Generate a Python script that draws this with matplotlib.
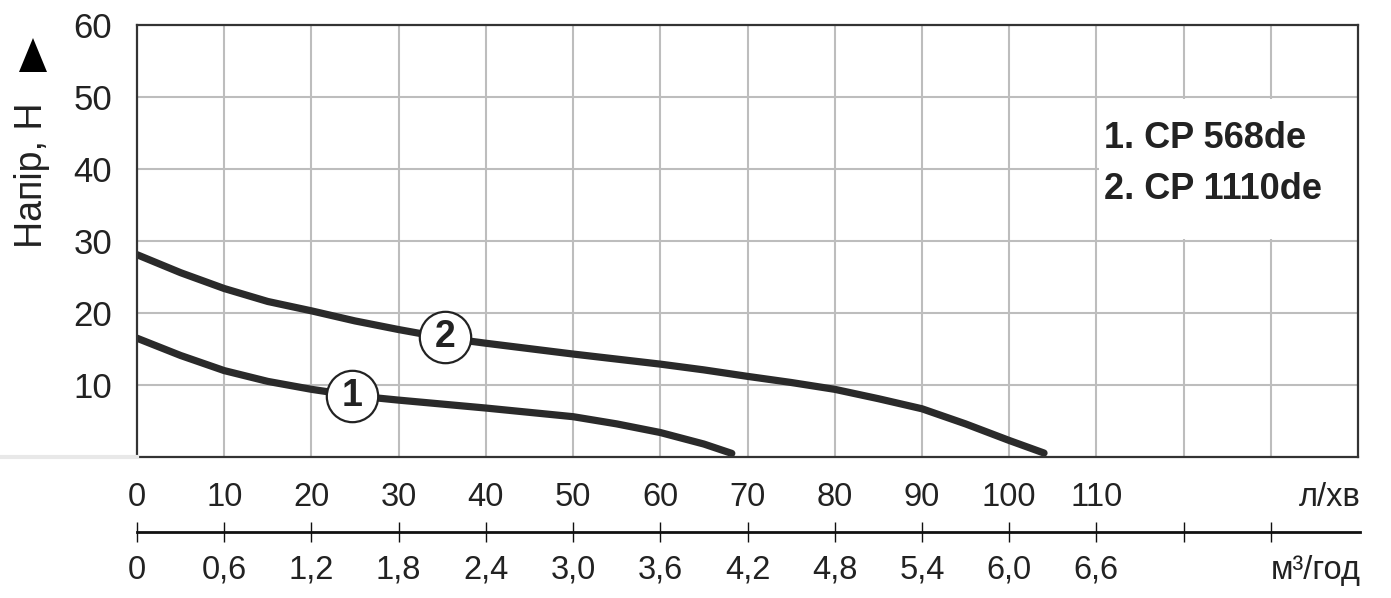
import matplotlib
matplotlib.use("Agg")
import matplotlib.pyplot as plt
from matplotlib.patches import Rectangle, Polygon
from matplotlib.lines import Line2D
from matplotlib import font_manager

plt.rcParams['font.family'] = ['Liberation Sans', 'DejaVu Sans']

# ---- data ----
flow_1 = [0, 5, 10, 15, 20, 25, 30, 35, 40, 45, 50, 55, 60, 65, 68.2]
head_1 = [16.5, 14.1, 12.0, 10.5, 9.4, 8.5, 7.9, 7.35, 6.8, 6.2, 5.6, 4.6, 3.4, 1.8, 0.5]

flow_2 = [0, 5, 10, 15, 20, 25, 30, 35, 40, 45, 50, 55, 60, 65, 70, 75, 80,
          85, 90, 95, 100, 104]
head_2 = [28.1, 25.6, 23.4, 21.6, 20.3, 18.9, 17.7, 16.6, 15.8, 15.05, 14.3,
          13.6, 12.9, 12.1, 11.2, 10.35, 9.4, 8.1, 6.7, 4.6, 2.3, 0.55]

curve_labels = ["1", "2"]
label_pos_x = [24.7, 35.3]
label_pos_y = [8.5, 16.6]

y_ticks = [10, 20, 30, 40, 50, 60]
x_grid = list(range(0, 141, 10))
lpm_ticks = list(range(0, 111, 10))
lpm_labels = [str(v) for v in lpm_ticks]
m3h_ticks = list(range(0, 131, 10))
m3h_labels = ["0", "0,6", "1,2", "1,8", "2,4", "3,0", "3,6", "4,2", "4,8",
              "5,4", "6,0", "6,6", "", ""]
legend_lines = ["1. CP 568de", "2. CP 1110de"]
y_label = "Напір, Н"
unit_lpm = "л/хв"
unit_m3h = "м³/год"

# narrow font for the lower scales if available
names = {f.name for f in font_manager.fontManager.ttflist}
if "Liberation Sans Narrow" in names:
    low_family = ["Liberation Sans Narrow", "DejaVu Sans"]
    low_size = 27
else:
    low_family = ["Liberation Sans", "DejaVu Sans"]
    low_size = 23.5

# ---- figure ----
W, H = 1391, 598
fig = plt.figure(figsize=(W / 100, H / 100), dpi=100)

def fx(px):
    return px / W

def fy(py):
    return 1 - py / H

left, right, top, bottom = 137, 1358, 25, 457
ax = fig.add_axes([fx(left), fy(bottom), fx(right - left), (bottom - top) / H])
ax.set_xlim(0, 140)
ax.set_ylim(0, 60)

grid_c = "#bdbdbd"
for v in x_grid[1:-1]:
    ax.axvline(v, color=grid_c, lw=1.5, zorder=1)
for v in y_ticks[:-1]:
    ax.axhline(v, color=grid_c, lw=1.5, zorder=1)

# white box behind the legend text
ax.add_patch(Rectangle((110.25, 30.25), 29.75, 19.5, facecolor="white",
                       edgecolor="none", zorder=2))

for s in ax.spines.values():
    s.set_color("#333333")
    s.set_linewidth(1.6)
    s.set_zorder(6)

ax.set_yticks(y_ticks)
ax.set_yticklabels([str(v) for v in y_ticks])
ax.tick_params(axis="y", length=0, pad=18, labelsize=25, labelcolor="#222222")

ax.set_xticks(lpm_ticks)
ax.set_xticklabels(lpm_labels)
ax.tick_params(axis="x", length=0, pad=18, labelcolor="#222222")
for t in ax.get_xticklabels():
    t.set_family(low_family)
    t.set_fontsize(low_size)

curve_c = "#2a2a2a"
ax.plot(flow_1, head_1, color=curve_c, lw=5.2, solid_capstyle="round",
        solid_joinstyle="round", zorder=4)
ax.plot(flow_2, head_2, color=curve_c, lw=5.2, solid_capstyle="round",
        solid_joinstyle="round", zorder=4)

for lab, cx, cy in zip(curve_labels, label_pos_x, label_pos_y):
    ax.plot([cx], [cy], marker="o", ms=37, mfc="white", mec="#222222",
            mew=1.6, zorder=5, linestyle="none")
    ax.text(cx, cy, lab, ha="center", va="center", fontsize=27,
            fontweight="bold", color="#222222", zorder=7)

ax.text(110.9, 44.3, legend_lines[0], ha="left", va="center", fontsize=26,
        fontweight="bold", color="#222222", zorder=7)
ax.text(110.9, 37.1, legend_lines[1], ha="left", va="center", fontsize=26,
        fontweight="bold", color="#222222", zorder=7)

# ---- second (m3/h) axis ----
ax2 = fig.add_axes([fx(left), fy(532), fx(1360 - left), 0.0001])
ax2.set_xlim(0, 140 * (1360 - left) / (right - left))
ax2.set_ylim(0, 1)
ax2.patch.set_visible(False)
for k in ["top", "left", "right"]:
    ax2.spines[k].set_visible(False)
ax2.spines["bottom"].set_linewidth(2.0)
ax2.spines["bottom"].set_color("#111111")
ax2.set_yticks([])
ax2.set_xticks(m3h_ticks)
ax2.set_xticklabels(m3h_labels)
ax2.tick_params(axis="x", direction="inout", length=15, width=1.0,
                color="#111111", pad=9, labelcolor="#222222")
for t in ax2.get_xticklabels():
    t.set_family(low_family)
    t.set_fontsize(low_size)

fig.text(fx(1361), fy(497), unit_lpm, ha="right", va="center",
         fontsize=low_size, family=low_family, color="#222222")
fig.text(fx(1361), fy(571), unit_m3h, ha="right", va="center",
         fontsize=low_size, family=low_family, color="#222222")

# ---- y label and arrow ----
fig.text(fx(32), fy(175), y_label, rotation=90, ha="center", va="center",
         fontsize=27, color="#222222")
fig.add_artist(Polygon([(fx(19), fy(72)), (fx(47), fy(72)), (fx(33), fy(38))],
                       closed=True, facecolor="black", edgecolor="none",
                       transform=fig.transFigure))

# faint grey bar at the left of the baseline
fig.add_artist(Line2D([0, fx(left)], [fy(457), fy(457)], color="#e8e8e8",
                      lw=3, transform=fig.transFigure))

fig.savefig("out.png", dpi=100)
